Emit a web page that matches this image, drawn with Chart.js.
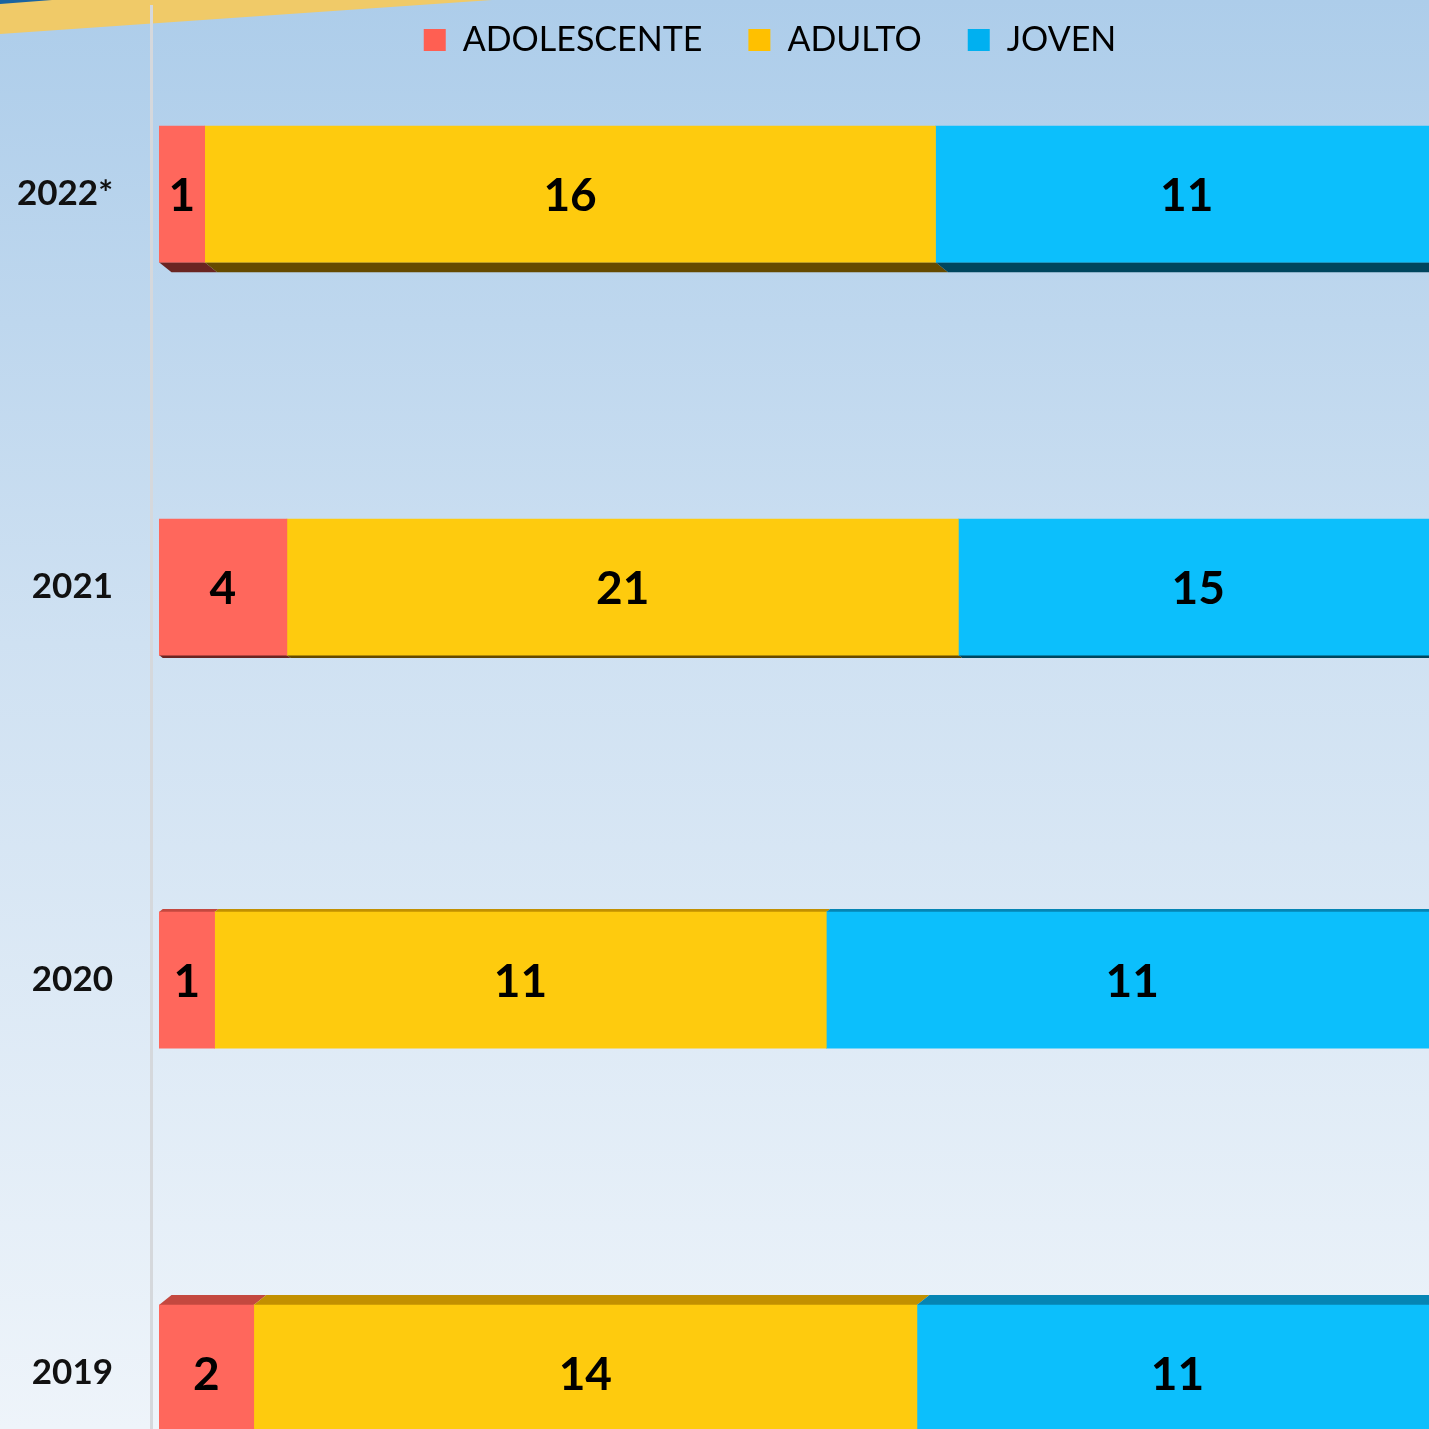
<!DOCTYPE html>
<html>
<head>
<meta charset="utf-8">
<title>Casos por grupo de edad</title>
<script src="https://cdn.jsdelivr.net/npm/chart.js@4/dist/chart.umd.min.js"></script>
<style>
  html, body { margin: 0; padding: 0; overflow: hidden; background: #eef4fa; }
  #wrap { width: 1440px; height: 1451px; }
</style>
</head>
<body>
<div id="wrap"><canvas id="myChart"></canvas></div>
<script>
// setup
const years = ['2022*', '2021', '2020', '2019'];
const adolescente = [1, 4, 1, 2];
const adulto = [16, 21, 11, 14];
const joven = [11, 15, 11, 11];

const totals = years.map((_, i) => adolescente[i] + adulto[i] + joven[i]);
// 100% stacked: each year as share of its total
const toPoints = arr => arr.map((v, i) => ({ x: v / totals[i] * 100, y: i }));

const barColors = ['#ff675c', '#fecb0e', '#0cbffc'];
const legendColors = ['#ff5f52', '#ffc000', '#00b0f0'];
const topFace = ['#c4483f', '#c29000', '#0585b4'];
const bottomFace = ['#6a2522', '#654a00', '#00465e'];
const faceDepth = [10, 3, -3, -10]; // + bottom face, - top face

const data = {
  datasets: [
    { label: 'ADOLESCENTE', counts: adolescente, data: toPoints(adolescente), backgroundColor: barColors[0] },
    { label: 'ADULTO', counts: adulto, data: toPoints(adulto), backgroundColor: barColors[1] },
    { label: 'JOVEN', counts: joven, data: toPoints(joven), backgroundColor: barColors[2] }
  ].map(d => Object.assign(d, { barThickness: 136, borderWidth: 0 }))
};

// slide background, corner ribbon and axis line
const slideBg = {
  id: 'slideBg',
  beforeDraw(chart) {
    const { ctx, width } = chart;
    const height = 1429;
    ctx.save();
    const g = ctx.createLinearGradient(0, 0, 0, height);
    g.addColorStop(0, '#adcdea');
    g.addColorStop(0.45, '#cfe1f2');
    g.addColorStop(1, '#eef4fa');
    ctx.fillStyle = g;
    ctx.fillRect(0, 0, width, chart.height);

    ctx.fillStyle = '#f0ca68';
    ctx.beginPath();
    ctx.moveTo(0, 0);
    ctx.lineTo(492, 0);
    ctx.lineTo(0, 34);
    ctx.closePath();
    ctx.fill();

    ctx.fillStyle = '#1a64a0';
    ctx.beginPath();
    ctx.moveTo(0, 0);
    ctx.lineTo(52, 0);
    ctx.lineTo(0, 4);
    ctx.closePath();
    ctx.fill();

    ctx.fillStyle = '#d5d8dc';
    ctx.fillRect(150, 5, 3, chart.height - 5);
    ctx.restore();
  }
};

// move legend up/right over the plot, like the original slide
const legendShift = {
  id: 'legendShift',
  afterLayout(chart) {
    const l = chart.legend;
    l.left += 51; l.right += 51;
    l.top -= 23; l.bottom -= 23;
  }
};

// 3d edges and value labels
const barDecor = {
  id: 'barDecor',
  beforeDatasetsDraw(chart) {
    const ctx = chart.ctx;
    ctx.save();
    chart.data.datasets.forEach((ds, di) => {
      chart.getDatasetMeta(di).data.forEach((bar, i) => {
        const { x, y, base, height } = bar.getProps(['x', 'y', 'base', 'height'], true);
        const d = faceDepth[i];
        const dx = Math.abs(d) * 1.25;
        const edge = d > 0 ? y + height / 2 : y - height / 2;
        ctx.fillStyle = d > 0 ? bottomFace[di] : topFace[di];
        ctx.beginPath();
        ctx.moveTo(base, edge);
        ctx.lineTo(x, edge);
        ctx.lineTo(x + dx, edge + d);
        ctx.lineTo(base + dx, edge + d);
        ctx.closePath();
        ctx.fill();
      });
    });
    ctx.restore();
  },
  afterDatasetsDraw(chart) {
    const ctx = chart.ctx;
    ctx.save();
    ctx.font = 'bold 46px Lato';
    ctx.fillStyle = '#000';
    ctx.textAlign = 'center';
    ctx.textBaseline = 'middle';
    chart.data.datasets.forEach((ds, di) => {
      chart.getDatasetMeta(di).data.forEach((bar, i) => {
        const { x, y, base } = bar.getProps(['x', 'y', 'base'], true);
        ctx.fillText(ds.counts[i], (x + base) / 2, y + 2);
      });
    });
    ctx.restore();
  }
};

// config
const config = {
  type: 'bar',
  data,
  options: {
    indexAxis: 'y',
    responsive: true,
    maintainAspectRatio: false,
    animation: false,
    layout: { padding: { left: 0, right: 2, top: 0, bottom: 0 } },
    scales: {
      x: { type: 'linear', stacked: true, min: 0, max: 100, display: false },
      y: {
        type: 'linear',
        stacked: true,
        reverse: true,
        offset: false,
        min: -0.265,
        max: 3.145,
        afterBuildTicks: s => { s.ticks = years.map((_, i) => ({ value: i })); },
        afterFit: s => { s.width = 159; },
        grid: { display: false, drawTicks: true, tickLength: 46 },
        border: { display: false },
        ticks: {
          callback: v => years[v],
          padding: 0,
          color: '#111',
          font: { family: 'Lato', size: 35, weight: 'bold' }
        }
      }
    },
    plugins: {
      tooltip: { enabled: false },
      legend: {
        position: 'top',
        labels: {
          boxWidth: 22,
          boxHeight: 22,
          padding: 46,
          color: '#000',
          font: { family: 'Lato', size: 34 },
          generateLabels: chart => Chart.defaults.plugins.legend.labels.generateLabels(chart)
            .map((item, i) => Object.assign(item, { fillStyle: legendColors[i], lineWidth: 0 }))
        }
      }
    }
  },
  plugins: [slideBg, legendShift, barDecor]
};

// render init block
const myChart = new Chart(document.getElementById('myChart'), config);
</script>
</body>
</html>
